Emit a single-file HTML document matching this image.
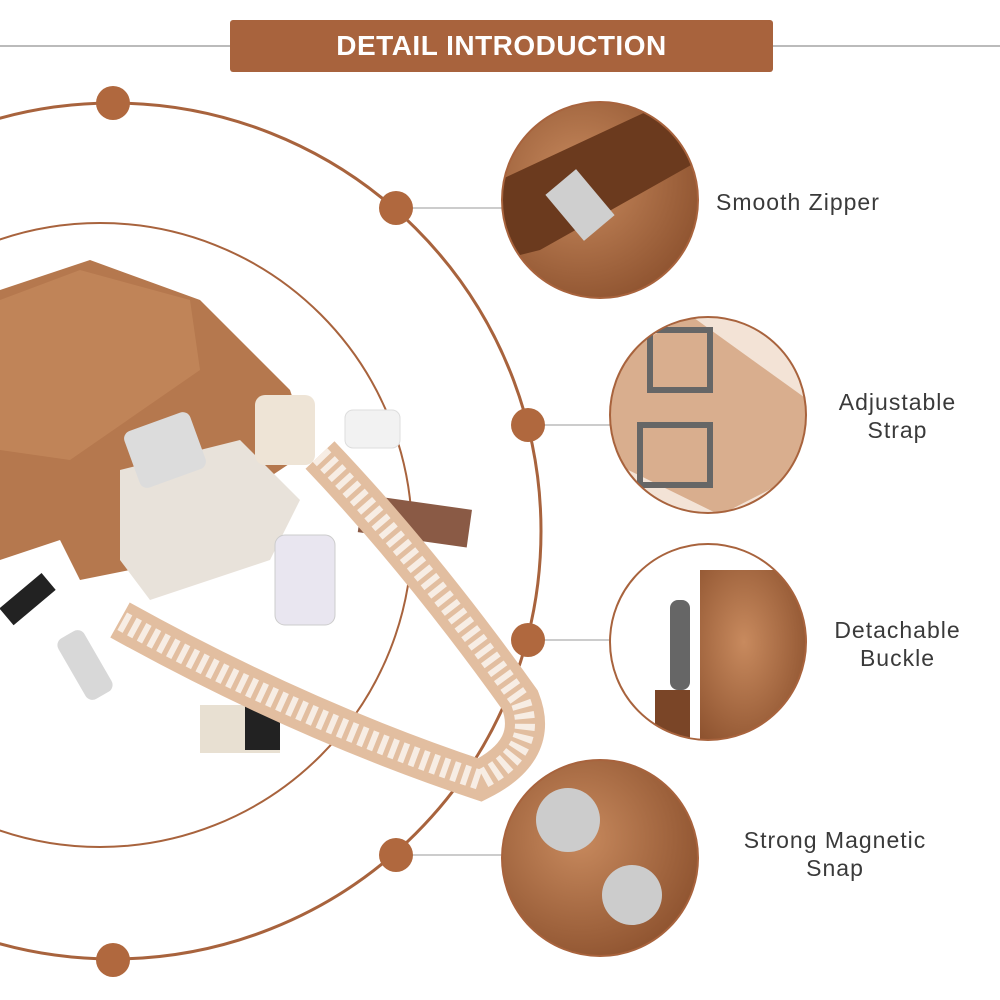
<!DOCTYPE html>
<html><head><meta charset="utf-8"><style>
html,body{margin:0;padding:0;background:#fff}
body{width:1000px;height:1000px;position:relative;overflow:hidden;font-family:"Liberation Sans",sans-serif}
.t{position:absolute;color:#3a3a3a;font-size:23px;letter-spacing:1px;text-align:center;line-height:28px}
</style></head><body>
<svg width="1000" height="1000" style="position:absolute;left:0;top:0">
<defs>
<radialGradient id="lb" cx="40%" cy="40%" r="70%"><stop offset="0" stop-color="#c88a5e"/><stop offset="1" stop-color="#8a4f2c"/></radialGradient>
<clipPath id="c1"><circle cx="600" cy="200" r="98"/></clipPath>
<clipPath id="c2"><circle cx="708" cy="415" r="98"/></clipPath>
<clipPath id="c3"><circle cx="708" cy="642" r="98"/></clipPath>
<clipPath id="c4"><circle cx="600" cy="858" r="98"/></clipPath>
</defs>
<line x1="0" y1="46" x2="230" y2="46" stroke="#bbb" stroke-width="2"/>
<line x1="773" y1="46" x2="1000" y2="46" stroke="#bbb" stroke-width="2"/>
<rect x="230" y="20" width="543" height="52" rx="3" fill="#a8633d"/>
<circle cx="113" cy="531" r="428" fill="none" stroke="#a8633d" stroke-width="3"/>
<circle cx="100" cy="535" r="312" fill="none" stroke="#a8633d" stroke-width="2"/>
<g stroke="#ccc" stroke-width="2">
<line x1="396" y1="208" x2="505" y2="208"/><line x1="528" y1="425" x2="612" y2="425"/>
<line x1="528" y1="640" x2="612" y2="640"/><line x1="396" y1="855" x2="505" y2="855"/>
</g>
<g fill="#b0683e">
<circle cx="113" cy="103" r="17"/><circle cx="396" cy="208" r="17"/><circle cx="528" cy="425" r="17"/>
<circle cx="528" cy="640" r="17"/><circle cx="396" cy="855" r="17"/><circle cx="113" cy="960" r="17"/>
</g>
<g clip-path="url(#c1)"><rect x="500" y="100" width="200" height="200" fill="url(#lb)"/><polygon points="500,180 650,110 700,130 700,160 540,250 500,260" fill="#6b3a1e"/><rect x="560" y="175" width="40" height="60" fill="#cfcfcf" transform="rotate(-40 580 205)"/></g>
<circle cx="600" cy="200" r="98" fill="none" stroke="#a8633d" stroke-width="2"/>
<g clip-path="url(#c2)"><rect x="608" y="315" width="200" height="200" fill="#f3e3d6"/><polygon points="608,360 690,315 808,400 808,470 720,515 608,460" fill="#d2a07c" opacity=".8"/><rect x="650" y="330" width="60" height="60" fill="none" stroke="#666" stroke-width="6"/><rect x="640" y="425" width="70" height="60" fill="none" stroke="#666" stroke-width="6"/></g>
<circle cx="708" cy="415" r="98" fill="none" stroke="#a8633d" stroke-width="2"/>
<g clip-path="url(#c3)"><rect x="608" y="542" width="200" height="200" fill="#fff"/><rect x="700" y="570" width="110" height="180" fill="url(#lb)"/><rect x="670" y="600" width="20" height="90" fill="#666" rx="8"/><rect x="655" y="690" width="35" height="60" fill="#7a4527"/></g>
<circle cx="708" cy="642" r="98" fill="none" stroke="#a8633d" stroke-width="2"/>
<g clip-path="url(#c4)"><rect x="500" y="758" width="200" height="200" fill="url(#lb)"/><circle cx="568" cy="820" r="32" fill="#ccc"/><circle cx="632" cy="895" r="30" fill="#ccc"/></g>
<circle cx="600" cy="858" r="98" fill="none" stroke="#a8633d" stroke-width="2"/>
<polygon points="0,290 90,260 200,300 290,390 310,450 130,570 80,580 60,540 0,560" fill="#b5784e"/>
<polygon points="0,300 80,270 190,300 200,370 70,460 0,450" fill="#c08458"/>
<polygon points="120,470 240,440 300,500 270,560 150,600 120,560" fill="#e8e2da"/>
<rect x="130" y="420" width="70" height="60" rx="8" fill="#dcdcdc" transform="rotate(-20 165 450)"/>
<rect x="255" y="395" width="60" height="70" rx="10" fill="#eee4d6"/>
<rect x="345" y="410" width="55" height="38" rx="8" fill="#f2f2f2" stroke="#ddd"/>
<rect x="275" y="535" width="60" height="90" rx="10" fill="#e9e6f0" stroke="#ccc"/>
<rect x="360" y="502" width="110" height="38" fill="#8a5a45" transform="rotate(8 415 520)"/>
<rect x="0" y="590" width="55" height="22" fill="#222" transform="rotate(-40 25 600)"/>
<rect x="70" y="630" width="30" height="70" rx="8" fill="#d8d8d8" transform="rotate(-30 85 665)"/>
<rect x="200" y="705" width="80" height="48" fill="#e8e0d2"/><rect x="245" y="702" width="35" height="48" fill="#222"/>
<path d="M320 455 Q420 560 520 700 Q540 750 480 780 Q300 720 120 620" fill="none" stroke="#e2bea0" stroke-width="40"/>
<path d="M320 455 Q420 560 520 700 Q540 750 480 780 Q300 720 120 620" fill="none" stroke="#f7ede4" stroke-width="20" stroke-dasharray="6 5"/>
</svg>
<div style="position:absolute;left:230px;top:20px;width:543px;height:52px;line-height:52px;text-align:center;color:#fff;font-weight:bold;font-size:28px;letter-spacing:0.5px">DETAIL INTRODUCTION</div>
<div class="t" style="left:716px;top:188px;text-align:left">Smooth Zipper</div>
<div class="t" style="left:810px;top:388px;width:175px">Adjustable<br>Strap</div>
<div class="t" style="left:810px;top:616px;width:175px">Detachable<br>Buckle</div>
<div class="t" style="left:720px;top:826px;width:230px">Strong Magnetic<br>Snap</div>
</body></html>
